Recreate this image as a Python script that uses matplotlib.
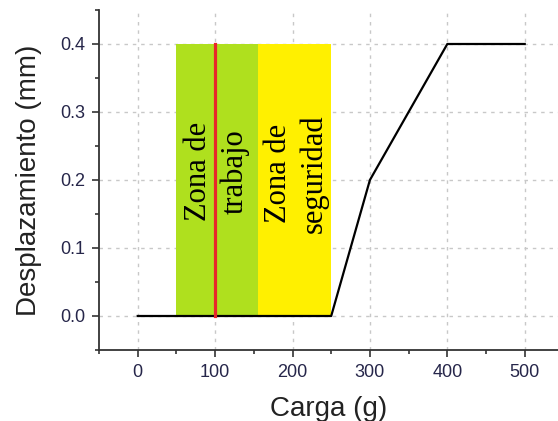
import matplotlib
matplotlib.use("Agg")
import matplotlib.pyplot as plt
from matplotlib.ticker import MultipleLocator, FormatStrFormatter

# Load-displacement curve
carga = [0, 250, 300, 400, 500]
desplazamiento = [0.0, 0.0, 0.2, 0.4, 0.4]

# Shaded zones (x extents) and their height
zona_trabajo = (50, 155)
zona_seguridad = (155, 250)
altura_zonas = 0.4
carga_trabajo = 100

etiqueta_trabajo = "Zona de\ntrabajo"
etiqueta_seguridad = "Zona de\nseguridad"

plt.rcParams["font.family"] = ["Liberation Sans", "DejaVu Sans"]

fig = plt.figure(figsize=(5.58, 4.21), dpi=100)
ax = fig.add_axes([99 / 558, 71 / 421, 1 - 99 / 558, 340 / 421])

ax.set_xlim(-50, 543)
ax.set_ylim(-0.05, 0.45)

ax.grid(True, which="major", linestyle=(0, (2.5, 3.5)), color="#c8c8c8", linewidth=1.0)
ax.set_axisbelow(True)

ax.fill_between(zona_trabajo, 0, altura_zonas, color="#afe01e", linewidth=0, zorder=1.5)
ax.fill_between(zona_seguridad, 0, altura_zonas, color="#fff000", linewidth=0, zorder=1.5)

ax.plot(carga, desplazamiento, color="black", linewidth=1.6, zorder=3)
ax.plot([carga_trabajo, carga_trabajo], [0, altura_zonas], color="#e8262a", linewidth=2.3, zorder=4)

texto = dict(rotation=90, ha="center", va="center", multialignment="center",
             fontsize=22, family=["Liberation Serif", "DejaVu Serif"], linespacing=1.3, zorder=5)
ax.text(102, 0.213, etiqueta_trabajo, **texto)
ax.text(205, 0.21, etiqueta_seguridad, **texto)

ax.xaxis.set_major_locator(MultipleLocator(100))
ax.xaxis.set_minor_locator(MultipleLocator(50))
ax.yaxis.set_major_locator(MultipleLocator(0.1))
ax.yaxis.set_minor_locator(MultipleLocator(0.05))
ax.yaxis.set_major_formatter(FormatStrFormatter("%.1f"))

for s in ("top", "right"):
    ax.spines[s].set_visible(False)
for s in ("left", "bottom"):
    ax.spines[s].set_color("#333333")
    ax.spines[s].set_linewidth(1.3)

ax.tick_params(which="major", direction="out", length=5, width=1.2, color="#333333",
               labelsize=13, labelcolor="#26264a", pad=5)
ax.tick_params(which="minor", direction="out", length=3, width=1.2, color="#333333")

ax.set_xlabel("Carga (g)", fontsize=20, color="#222222", labelpad=11)
ax.set_ylabel("Desplazamiento (mm)", fontsize=20, color="#222222", labelpad=13)

fig.savefig("out.png", dpi=100)
